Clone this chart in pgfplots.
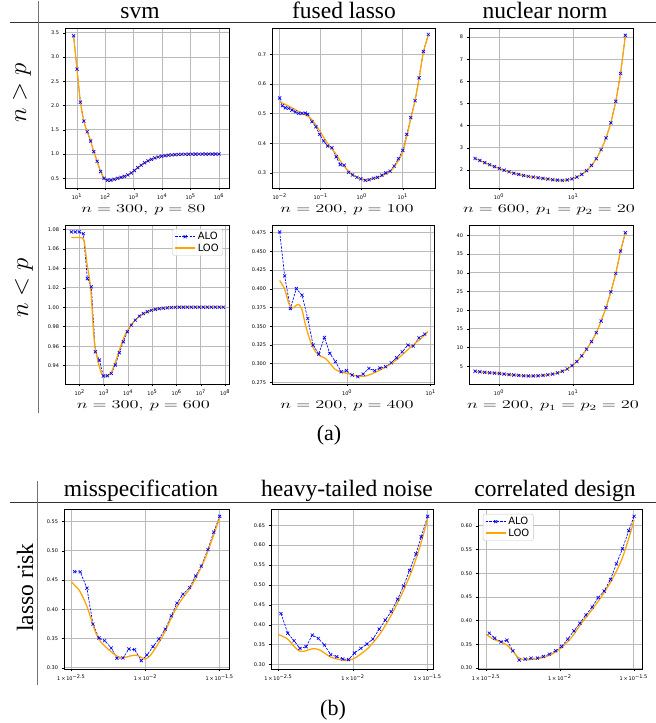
\documentclass[border=0pt]{standalone}
\usepackage[no-math]{fontspec}
\setmainfont{Liberation Serif}
\newfontfamily\dejavu{DejaVu Sans}
\usepackage{graphicx}
\usepackage{pgfplots}
\usepackage{pgfplotstable}
\pgfplotsset{compat=1.18}
\definecolor{aloblue}{HTML}{0000FF}
\definecolor{looorange}{HTML}{FFA500}

\newcommand\tickfont{\dejavu\fontsize{5}{5.5}\selectfont}
\newcommand\titlefont{\rmfamily\fontsize{23.5}{24}\selectfont}
\newcommand\capt[1]{{\fontsize{12}{12}\selectfont\scalebox{1.53}[1]{#1}}}

\pgfplotsset{
  legend image code/.code={\draw[mark repeat=2,mark phase=2,#1] plot coordinates {(0pt,0pt) (10pt,0pt) (20pt,0pt)};},
  panel/.style={
    scale only axis, anchor=north west,
    grid=major,
    major grid style={draw=black!27, line width=0.9pt},
    axis line style={line width=0.7pt},
    tick align=outside, tick pos=left,
    major tick length=2.4pt, minor tick length=1.4pt,
    tick style={black, line width=0.45pt},
    ticklabel style={font=\tickfont},
    /pgf/number format/assume math mode=true,
    scaled y ticks=false,
  },
  yprec/.style={yticklabel style={/pgf/number format/.cd,fixed,fixed zerofill,precision=#1}},
  alo/.style={aloblue, line width=0.65pt, dash pattern=on 2.4pt off 1.2pt, mark=x, mark size=2.2pt, mark options={solid, line width=0.65pt}},
  loo/.style={looorange, line width=1.25pt, smooth, no markers,
    legend image code/.code={\draw[looorange, line width=1.25pt] (0pt,0pt) -- (20pt,0pt);}},
  leg/.style={legend style={font=\dejavu\fontsize{10}{12}\selectfont, draw=black!22, fill=white, fill opacity=0.85, text opacity=1, rounded corners=2pt, inner xsep=2pt, inner ysep=1pt, row sep=-1.5pt}, legend cell align=left},
}

% svm, n > p
\pgfplotstableread{
lx y
0.88 3.44
1.00 2.75
1.12 2.07
1.24 1.68
1.36 1.46
1.48 1.27
1.59 1.05
1.71 0.85
1.83 0.64
1.95 0.50
2.07 0.46
2.19 0.46
2.31 0.48
2.43 0.50
2.55 0.52
2.67 0.54
2.79 0.57
2.91 0.61
3.02 0.66
3.14 0.72
3.26 0.77
3.38 0.82
3.50 0.86
3.62 0.89
3.74 0.92
3.86 0.94
3.98 0.955
4.10 0.967
4.22 0.976
4.34 0.983
4.45 0.988
4.57 0.992
4.69 0.994
4.81 0.996
4.93 0.997
5.05 0.998
5.17 0.999
5.29 0.999
5.41 1.000
5.53 1.000
5.64 1.000
5.76 1.000
5.88 1.000
6.00 1.000
}\svmhi

% fused lasso, n > p
\pgfplotstableread{
lx y
-2.000 0.553
-1.935 0.527
-1.862 0.520
-1.781 0.518
-1.700 0.512
-1.619 0.506
-1.538 0.501
-1.457 0.501
-1.376 0.502
-1.319 0.498
-1.213 0.473
-1.116 0.456
-1.027 0.430
-0.929 0.408
-0.832 0.391
-0.727 0.385
-0.621 0.354
-0.524 0.328
-0.427 0.326
-0.321 0.302
-0.224 0.293
-0.118 0.285
-0.021 0.280
0.084 0.275
0.182 0.277
0.287 0.282
0.384 0.285
0.490 0.292
0.587 0.300
0.693 0.306
0.790 0.323
0.895 0.348
1.001 0.376
1.098 0.430
1.195 0.487
1.301 0.544
1.398 0.621
1.504 0.710
1.625 0.768
}\fusedhiALO
\pgfplotstableread{
lx y
-2.00 0.540
-1.80 0.527
-1.60 0.512
-1.40 0.498
-1.25 0.485
-1.10 0.458
-0.95 0.425
-0.80 0.393
-0.65 0.368
-0.50 0.336
-0.35 0.310
-0.20 0.293
-0.05 0.282
0.10 0.276
0.25 0.279
0.40 0.285
0.55 0.294
0.70 0.305
0.85 0.332
1.00 0.370
1.10 0.425
1.20 0.485
1.30 0.545
1.40 0.620
1.50 0.705
1.625 0.765
}\fusedhiLOO

% nuclear norm, n > p
\pgfplotstableread{
lx y
-0.323 2.52
-0.258 2.43
-0.192 2.33
-0.127 2.24
-0.061 2.15
0.004 2.07
0.069 1.99
0.135 1.92
0.200 1.85
0.266 1.80
0.331 1.75
0.396 1.71
0.462 1.68
0.527 1.65
0.593 1.62
0.658 1.59
0.723 1.56
0.789 1.54
0.854 1.53
0.920 1.55
0.985 1.60
1.050 1.68
1.116 1.80
1.181 1.97
1.247 2.21
1.312 2.51
1.377 2.92
1.443 3.45
1.508 4.13
1.574 5.10
1.639 6.36
1.704 8.08
}\nuchi

% svm, n < p
\pgfplotstableread{
lx y
1.656 1.0773
1.821 1.0773
1.986 1.0773
2.151 1.0755
2.316 1.0295
2.481 1.0209
2.646 0.9543
2.811 0.9458
2.976 0.9294
3.141 0.9297
3.306 0.9321
3.471 0.9407
3.636 0.9533
3.801 0.9646
3.966 0.9748
4.131 0.9817
4.296 0.9868
4.461 0.9909
4.626 0.9936
4.791 0.9955
4.956 0.9968
5.121 0.9978
5.286 0.9985
5.451 0.9990
5.616 0.9994
5.781 0.9997
5.946 0.9999
6.111 1.0000
6.276 1.0000
6.441 1.0000
6.606 1.0000
6.771 1.0000
6.936 1.0000
7.101 1.0000
7.266 1.0000
7.431 1.0000
7.596 1.0000
7.761 1.0000
7.926 1.0000
}\svmloALO
\pgfplotstableread{
lx y
1.656 1.0715
1.900 1.0715
2.100 1.0712
2.200 1.0660
2.300 1.0450
2.450 1.0200
2.600 0.9660
2.750 0.9450
2.900 0.9320
3.000 0.9295
3.150 0.9300
3.300 0.9330
3.450 0.9420
3.600 0.9530
3.750 0.9640
3.900 0.9730
4.100 0.9810
4.300 0.9870
4.500 0.9910
4.800 0.9950
5.100 0.9980
5.500 0.9995
6.000 1.0000
7.000 1.0000
7.926 1.0000
}\svmloLOO

% fused lasso, n < p
\pgfplotstableread{
lx y
-0.808 0.4759
-0.748 0.4172
-0.680 0.3737
-0.608 0.4003
-0.540 0.3914
-0.472 0.3603
-0.408 0.3248
-0.340 0.3128
-0.272 0.3350
-0.208 0.3137
-0.140 0.3026
-0.072 0.2892
-0.008 0.2906
0.060 0.2848
0.128 0.2826
0.192 0.2861
0.260 0.2937
0.328 0.2906
0.392 0.2941
0.460 0.2959
0.528 0.3012
0.592 0.3079
0.660 0.3159
0.728 0.3248
0.792 0.3235
0.860 0.3346
0.928 0.3394
}\fusedloALO
\pgfplotstableread{
lx y
-0.808 0.411
-0.750 0.400
-0.700 0.381
-0.660 0.374
-0.620 0.377
-0.580 0.379
-0.540 0.372
-0.500 0.352
-0.440 0.330
-0.380 0.316
-0.320 0.310
-0.260 0.307
-0.210 0.301
-0.150 0.293
-0.080 0.289
0.000 0.287
0.100 0.284
0.200 0.283
0.300 0.2865
0.400 0.292
0.500 0.298
0.600 0.306
0.700 0.316
0.800 0.326
0.900 0.335
0.968 0.343
}\fusedloLOO

% nuclear norm, n < p
\pgfplotstableread{
lx y
-0.323 3.70
-0.258 3.55
-0.192 3.40
-0.127 3.30
-0.061 3.20
0.004 3.10
0.069 2.95
0.135 2.80
0.200 2.70
0.266 2.60
0.331 2.50
0.396 2.45
0.462 2.45
0.527 2.50
0.593 2.60
0.658 2.75
0.723 2.95
0.789 3.25
0.854 3.70
0.920 4.30
0.985 5.20
1.050 6.30
1.116 7.80
1.181 9.60
1.247 11.6
1.312 14.0
1.377 17.1
1.443 20.7
1.508 24.9
1.574 29.8
1.639 35.8
1.704 40.7
}\nuclo

% lasso risk: misspecification
\pgfplotstableread{
lx y
-2.4775 0.4644
-2.4393 0.4639
-2.3944 0.4361
-2.3539 0.3748
-2.3135 0.3510
-2.2753 0.3465
-2.2303 0.3339
-2.1921 0.3164
-2.1517 0.3169
-2.1112 0.3322
-2.0730 0.3311
-2.0281 0.3124
-1.9899 0.3220
-1.9494 0.3362
-1.9090 0.3493
-1.8663 0.3663
-1.8258 0.3890
-1.7876 0.4105
-1.7472 0.4258
-1.7022 0.4371
-1.6618 0.4570
-1.6236 0.4740
-1.5787 0.5024
-1.5404 0.5319
-1.5000 0.5591
}\misALO
\pgfplotstableread{
lx y
-2.500 0.4475
-2.4775 0.441
-2.450 0.434
-2.420 0.420
-2.390 0.402
-2.360 0.378
-2.330 0.357
-2.300 0.344
-2.260 0.334
-2.220 0.325
-2.180 0.3185
-2.140 0.3175
-2.100 0.3205
-2.060 0.3215
-2.030 0.3180
-2.005 0.3150
-1.980 0.3180
-1.950 0.3270
-1.910 0.3430
-1.870 0.3610
-1.830 0.3830
-1.790 0.4030
-1.750 0.4190
-1.710 0.4320
-1.670 0.4490
-1.630 0.4690
-1.590 0.4920
-1.550 0.5200
-1.500 0.5560
}\misLOO

% lasso risk: heavy-tailed noise
\pgfplotstableread{
lx y
-2.482 0.4283
-2.437 0.3792
-2.395 0.3600
-2.355 0.3408
-2.314 0.3450
-2.272 0.3742
-2.232 0.3658
-2.191 0.3492
-2.149 0.3250
-2.109 0.3200
-2.068 0.3142
-2.030 0.3125
-1.990 0.3292
-1.947 0.3408
-1.907 0.3517
-1.867 0.3642
-1.824 0.3892
-1.784 0.4117
-1.744 0.4333
-1.701 0.4642
-1.661 0.4975
-1.621 0.5367
-1.578 0.5783
-1.543 0.6208
-1.500 0.6725
}\heavyALO
\pgfplotstableread{
lx y
-2.500 0.3758
-2.440 0.3650
-2.400 0.3483
-2.355 0.3333
-2.310 0.3355
-2.270 0.3400
-2.230 0.3380
-2.190 0.3290
-2.150 0.3190
-2.100 0.3135
-2.050 0.3105
-2.000 0.3140
-1.950 0.3260
-1.900 0.3410
-1.850 0.3620
-1.800 0.3880
-1.750 0.4200
-1.700 0.4560
-1.650 0.4960
-1.600 0.5420
-1.550 0.5980
-1.500 0.6660
}\heavyLOO

% lasso risk: correlated design
\pgfplotstableread{
lx y
-2.4775 0.3736
-2.4416 0.3631
-2.3989 0.3554
-2.3584 0.3589
-2.3180 0.3364
-2.2753 0.3168
-2.2348 0.3189
-2.1944 0.3210
-2.1517 0.3210
-2.1112 0.3245
-2.0708 0.3294
-2.0281 0.3364
-1.9876 0.3455
-1.9472 0.3610
-1.9045 0.3785
-1.8640 0.3946
-1.8236 0.4121
-1.7809 0.4290
-1.7404 0.4486
-1.7000 0.4626
-1.6573 0.4871
-1.6169 0.5201
-1.5764 0.5516
-1.5337 0.5902
-1.4978 0.6203
}\corALO
\pgfplotstableread{
lx y
-2.500 0.3715
-2.450 0.3610
-2.400 0.3550
-2.360 0.3490
-2.320 0.3360
-2.280 0.3220
-2.240 0.3175
-2.180 0.3185
-2.110 0.3225
-2.050 0.3300
-1.990 0.3430
-1.920 0.3650
-1.860 0.3920
-1.790 0.4200
-1.720 0.4500
-1.650 0.4850
-1.580 0.5300
-1.520 0.5880
-1.4978 0.6133
}\corLOO

\begin{document}
\begin{tikzpicture}
\useasboundingbox (0,0) rectangle (656pt,-723pt);

% ---------- (a) table rules, headers ----------
\draw[black!80, line width=0.9pt] (10pt,-22pt) -- (656pt,-22pt);
\draw[black!55, line width=1pt] (38pt,-1pt) -- (38pt,-413pt);
\node[anchor=base, font=\titlefont] at (140pt,-18.5pt) {svm};
\node[anchor=base, font=\titlefont] at (344pt,-18.5pt) {fused lasso};
\node[anchor=base, font=\titlefont] at (545pt,-18.5pt) {nuclear norm};
\node[rotate=90] at (22pt,-93pt) {\fontsize{24}{24}\selectfont$n>p$};
\node[rotate=90] at (24pt,-288pt) {\fontsize{24}{24}\selectfont$n<p$};

% svm n>p
\begin{axis}[xmode=log, panel, at={(65pt,-28pt)}, width=164pt, height=160pt,
  xmin=3.78, xmax=2.24e6, ymin=0.30, ymax=3.60,
  xtick={10,100,1000,10000,100000,1000000},
  xticklabels={10\textsuperscript{1},10\textsuperscript{2},10\textsuperscript{3},10\textsuperscript{4},10\textsuperscript{5},10\textsuperscript{6}},
  ytick={0.5,1,1.5,2,2.5,3,3.5}, yprec=1]
\addplot[alo] table[x expr=10^(\thisrow{lx}), y=y] {\svmhi};
\addplot[loo] table[x expr=10^(\thisrow{lx}), y=y] {\svmhi};
\end{axis}
\node at (143.4pt,-210pt) {\capt{$n = 300,\, p = 80$}};

% fused lasso n>p
\begin{axis}[xmode=log, panel, at={(272pt,-28pt)}, width=163pt, height=160pt,
  xmin=0.0065, xmax=61.2, ymin=0.249, ymax=0.7895,
  xtick={0.01,0.1,1,10},
  xticklabels={10\textsuperscript{−2},10\textsuperscript{−1},10\textsuperscript{0},10\textsuperscript{1}},
  ytick={0.3,0.4,0.5,0.6,0.7}, yprec=1]
\addplot[alo] table[x expr=10^(\thisrow{lx}), y=y] {\fusedhiALO};
\addplot[loo] table[x expr=10^(\thisrow{lx}), y=y] {\fusedhiLOO};
\end{axis}
\node at (347pt,-210pt) {\capt{$n = 200,\, p = 100$}};

% nuclear n>p
\begin{axis}[xmode=log, panel, at={(469pt,-28pt)}, width=164pt, height=160pt,
  xmin=0.394, xmax=64.1, ymin=1.186, ymax=8.41,
  xtick={1,10},
  xticklabels={10\textsuperscript{0},10\textsuperscript{1}},
  ytick={2,3,4,5,6,7,8}]
\addplot[alo] table[x expr=10^(\thisrow{lx}), y=y] {\nuchi};
\addplot[loo] table[x expr=10^(\thisrow{lx}), y=y] {\nuchi};
\end{axis}
\node at (549pt,-210pt) {\capt{$n = 600,\, p_1 = p_2 = 20$}};

% svm n<p
\begin{axis}[xmode=log, panel, leg, at={(65pt,-225pt)}, width=164pt, height=159pt,
  xmin=24.8, xmax=1.45e8, ymin=0.9212, ymax=1.0844,
  xtick={100,1000,10000,100000,1000000,10000000,100000000},
  xticklabels={10\textsuperscript{2},10\textsuperscript{3},10\textsuperscript{4},10\textsuperscript{5},10\textsuperscript{6},10\textsuperscript{7},10\textsuperscript{8}},
  ytick={0.94,0.96,0.98,1.00,1.02,1.04,1.06,1.08}, yprec=2,
  legend style={at={(0.963,0.975)}, anchor=north east}]
\addplot[alo] table[x expr=10^(\thisrow{lx}), y=y] {\svmloALO};
\addlegendentry{ALO}
\addplot[loo] table[x expr=10^(\thisrow{lx}), y=y] {\svmloLOO};
\addlegendentry{LOO}
\end{axis}
\node at (143.4pt,-406pt) {\capt{$n = 300,\, p = 600$}};

% fused lasso n<p
\begin{axis}[xmode=log, panel, at={(272pt,-225pt)}, width=162pt, height=159pt,
  xmin=0.126, xmax=10.96, ymin=0.2728, ymax=0.4852,
  xtick={1,10},
  xticklabels={10\textsuperscript{0},10\textsuperscript{1}},
  ytick={0.275,0.3,0.325,0.35,0.375,0.4,0.425,0.45,0.475}, yprec=3]
\addplot[alo] table[x expr=10^(\thisrow{lx}), y=y] {\fusedloALO};
\addplot[loo] table[x expr=10^(\thisrow{lx}), y=y] {\fusedloLOO};
\end{axis}
\node at (347pt,-406pt) {\capt{$n = 200,\, p = 400$}};

% nuclear n<p
\begin{axis}[xmode=log, panel, at={(469pt,-225pt)}, width=164pt, height=159pt,
  xmin=0.394, xmax=64.1, ymin=0.293, ymax=42.75,
  xtick={1,10},
  xticklabels={10\textsuperscript{0},10\textsuperscript{1}},
  ytick={5,10,15,20,25,30,35,40}]
\addplot[alo] table[x expr=10^(\thisrow{lx}), y=y] {\nuclo};
\addplot[loo] table[x expr=10^(\thisrow{lx}), y=y] {\nuclo};
\end{axis}
\node at (553pt,-406pt) {\capt{$n = 200,\, p_1 = p_2 = 20$}};

\node[font=\fontsize{22}{22}\selectfont] at (329pt,-435pt) {(a)};

% ---------- (b) ----------
\draw[black!80, line width=0.9pt] (10pt,-502pt) -- (656pt,-502pt);
\draw[black!55, line width=1pt] (37pt,-481pt) -- (37pt,-685pt);
\node[anchor=base, font=\titlefont] at (141pt,-496.5pt) {misspecification};
\node[anchor=base, font=\titlefont] at (347pt,-496.5pt) {heavy-tailed noise};
\node[anchor=base, font=\titlefont] at (555pt,-496.5pt) {correlated design};
\node[rotate=90, font=\titlefont] at (25pt,-587.5pt) {lasso risk};

\begin{axis}[xmode=log, panel, at={(64pt,-509pt)}, width=165pt, height=160pt,
  xmin=0.002825, xmax=0.03656, ymin=0.298, ymax=0.5715,
  xtick={0.0031623,0.01,0.031623},
  xticklabels={1\,×\,10\textsuperscript{−2.5},1\,×\,10\textsuperscript{−2},1\,×\,10\textsuperscript{−1.5}},
  minor xtick={0.003,0.004,0.005,0.006,0.007,0.008,0.009,0.02,0.03},
  ytick={0.30,0.35,0.40,0.45,0.50,0.55}, yprec=2]
\addplot[alo] table[x expr=10^(\thisrow{lx}), y=y] {\misALO};
\addplot[loo] table[x expr=10^(\thisrow{lx}), y=y] {\misLOO};
\end{axis}

\begin{axis}[xmode=log, panel, at={(271pt,-509pt)}, width=162pt, height=160pt,
  xmin=0.002825, xmax=0.03436, ymin=0.289, ymax=0.6908,
  xtick={0.0031623,0.01,0.031623},
  xticklabels={1\,×\,10\textsuperscript{−2.5},1\,×\,10\textsuperscript{−2},1\,×\,10\textsuperscript{−1.5}},
  minor xtick={0.003,0.004,0.005,0.006,0.007,0.008,0.009,0.02,0.03},
  ytick={0.30,0.35,0.40,0.45,0.50,0.55,0.60,0.65}, yprec=2]
\addplot[alo] table[x expr=10^(\thisrow{lx}), y=y] {\heavyALO};
\addplot[loo] table[x expr=10^(\thisrow{lx}), y=y] {\heavyLOO};
\end{axis}

\begin{axis}[xmode=log, panel, leg, at={(478pt,-509pt)}, width=164pt, height=160pt,
  xmin=0.002793, xmax=0.03597, ymin=0.298, ymax=0.6357,
  xtick={0.0031623,0.01,0.031623},
  xticklabels={1\,×\,10\textsuperscript{−2.5},1\,×\,10\textsuperscript{−2},1\,×\,10\textsuperscript{−1.5}},
  minor xtick={0.003,0.004,0.005,0.006,0.007,0.008,0.009,0.02,0.03},
  ytick={0.30,0.35,0.40,0.45,0.50,0.55,0.60}, yprec=2,
  legend style={at={(0.03,0.969)}, anchor=north west}]
\addplot[alo] table[x expr=10^(\thisrow{lx}), y=y] {\corALO};
\addlegendentry{ALO}
\addplot[loo] table[x expr=10^(\thisrow{lx}), y=y] {\corLOO};
\addlegendentry{LOO}
\end{axis}

\node[font=\fontsize{22}{22}\selectfont] at (333pt,-710pt) {(b)};
\end{tikzpicture}
\end{document}
